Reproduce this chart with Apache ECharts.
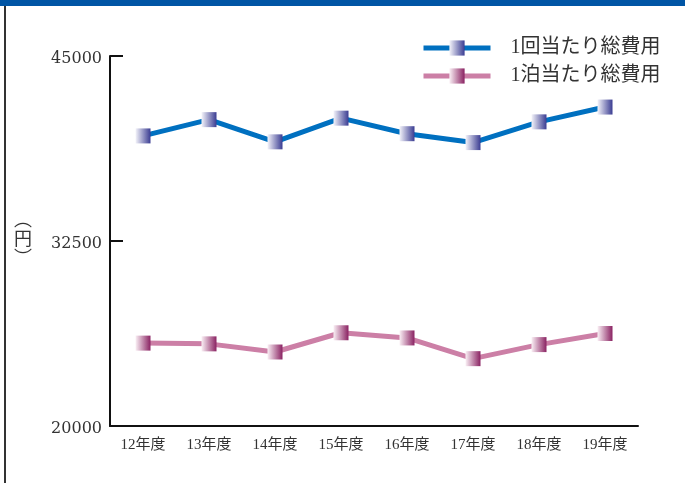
<!DOCTYPE html>
<html>
<head>
<meta charset="utf-8">
<script src="https://cdn.jsdelivr.net/npm/echarts@6/dist/echarts.min.js"></script>
<style>
  html, body { margin: 0; padding: 0; background: #fff; }
  #chart { width: 685px; height: 483px; }
</style>
</head>
<body>
<div id="chart"></div>
<script>
// 年度別の総費用（円）
const categories = ['12年度', '13年度', '14年度', '15年度', '16年度', '17年度', '18年度', '19年度'];
const perTripCost = [39600, 40700, 39200, 40800, 39750, 39150, 40550, 41550];
const perNightCost = [25600, 25550, 25000, 26300, 25950, 24550, 25500, 26250];
const seriesNames = ['1回当たり総費用', '1泊当たり総費用'];
const yTicks = [20000, 32500, 45000];

const SERIF = '"Liberation Serif", "DejaVu Serif", "Noto Sans CJK JP", serif';
const WIDE_SERIF = '"DejaVu Serif", "Liberation Serif", serif';

function squareGradient(light, dark) {
  return new echarts.graphic.LinearGradient(0, 0, 1, 0, [
    { offset: 0, color: light },
    { offset: 1, color: dark }
  ]);
}

const chart = echarts.init(document.getElementById('chart'), null, { renderer: 'canvas' });

chart.setOption({
  animation: false,
  backgroundColor: '#ffffff',
  grid: { left: 110, right: 47, top: 56, bottom: 57 },
  legend: {
    orient: 'vertical',
    left: 421,
    top: 38,
    padding: 0,
    itemWidth: 67,
    itemHeight: 19,
    itemGap: 8,
    lineStyle: { width: 5 },
    textStyle: { fontFamily: SERIF, fontSize: 20, color: '#333', padding: [0, 0, 0, 15] },
    data: seriesNames
  },
  xAxis: {
    type: 'category',
    data: categories,
    boundaryGap: true,
    axisLine: { lineStyle: { color: '#111', width: 2 } },
    axisTick: { inside: true, length: 7, lineStyle: { color: '#111', width: 2 } },
    axisLabel: { fontFamily: SERIF, fontSize: 15, color: '#333', margin: 12 }
  },
  yAxis: {
    type: 'value',
    min: yTicks[0],
    max: yTicks[yTicks.length - 1],
    interval: yTicks[1] - yTicks[0],
    splitLine: { show: false },
    axisLine: { show: true, lineStyle: { color: '#111', width: 2 } },
    axisTick: { show: true, inside: true, length: 13, lineStyle: { color: '#111', width: 2 } },
    axisLabel: {
      color: '#333', margin: 8,
      formatter: v => '{n|' + v + '}',
      rich: {
        n: { fontFamily: WIDE_SERIF, fontSize: 16, color: '#333', padding: [6, 0, 0, 0] }
      }
    }
  },
  series: [
    {
      name: seriesNames[0],
      type: 'line',
      data: perTripCost,
      symbol: 'rect',
      symbolSize: 15,
      lineStyle: { color: '#0070c0', width: 5 },
      itemStyle: { color: squareGradient('#f4f4fa', '#3a3c92'), borderWidth: 0 }
    },
    {
      name: seriesNames[1],
      type: 'line',
      data: perNightCost,
      symbol: 'rect',
      symbolSize: 15,
      lineStyle: { color: '#cc7fa6', width: 5 },
      itemStyle: { color: squareGradient('#faf0f5', '#8a2262'), borderWidth: 0 }
    }
  ],
  graphic: [
    { type: 'rect', left: 0, top: 0, shape: { width: 685, height: 6 }, style: { fill: '#0055a5' } },
    { type: 'rect', left: 4, top: 6, shape: { width: 2, height: 477 }, style: { fill: '#333' } },
    {
      type: 'text',
      left: 14,
      top: 210,
      style: { text: '︵\n円\n︶', fontFamily: '"Noto Sans CJK JP", sans-serif', fontSize: 18, lineHeight: 19, fill: '#333', align: 'center' }
    }
  ]
});
</script>
</body>
</html>
